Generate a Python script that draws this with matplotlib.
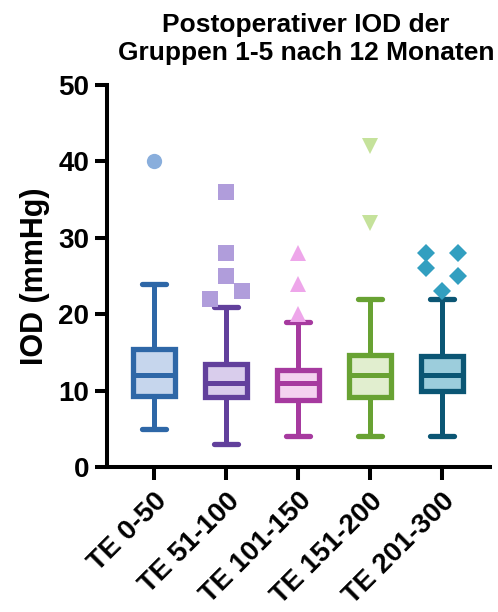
import numpy as np
import matplotlib.pyplot as plt

# values (mmHg)
groups = ["TE 0-50", "TE 51-100", "TE 101-150", "TE 151-200", "TE 201-300"]
whisker_low = [5, 3, 4, 4, 4]
q1 = [9.3, 9.2, 8.8, 9.1, 9.9]
medians = [12, 11, 11, 12, 12]
q3 = [15.4, 13.5, 12.7, 14.7, 14.5]
whisker_high = [24, 21, 19, 22, 22]
outliers = [
    [40],
    [22, 23, 25, 28, 36],
    [20, 24, 28],
    [32, 42],
    [23, 25, 26, 28, 28],
]

# layout: sideways spread of overlapping outliers (in marker widths)
spread = [
    [0],
    [-1, 1, 0, 0, 0],
    [0, 0, 0],
    [0, 0],
    [0, 1, -1, -1, 1],
]

edge_colors = ["#2e67a7", "#62409c", "#a63a9f", "#68a233", "#0b5674"]
fill_colors = ["#c6d6ed", "#d9cdec", "#f4d2f0", "#e1eecf", "#9ccddc"]
dot_colors = ["#89aedc", "#b09ddb", "#eea6ea", "#c5e29b", "#329fc0"]
markers = ["o", "s", "^", "v", "D"]
marker_sizes = [11, 11, 12, 12, 9]

plt.rcParams["font.family"] = ["Liberation Sans", "DejaVu Sans"]
plt.rcParams["font.weight"] = "bold"

fig = plt.figure(figsize=(4.98, 6.12), dpi=100)
ax = fig.add_axes([0.215, 0.237, 0.769, 0.624])

positions = np.arange(1, len(groups) + 1)
for i, pos in enumerate(positions):
    stats = [dict(med=medians[i], q1=q1[i], q3=q3[i],
                  whislo=whisker_low[i], whishi=whisker_high[i], fliers=[])]
    c = edge_colors[i]
    ax.bxp(stats, positions=[pos], widths=0.58, patch_artist=True,
           showfliers=False,
           boxprops=dict(facecolor=fill_colors[i], edgecolor=c, linewidth=3.8),
           medianprops=dict(color=c, linewidth=3.6),
           whiskerprops=dict(color=c, linewidth=3.6),
           capprops=dict(color=c, linewidth=3.8, solid_capstyle="round"),
           capwidths=0.34)
    xs = pos + 0.225 * np.array(spread[i])
    ax.plot(xs, outliers[i], linestyle="none", marker=markers[i],
            markersize=marker_sizes[i], color=dot_colors[i],
            markeredgewidth=0, clip_on=False)

ax.set_xlim(0.345, 5.67)
ax.set_ylim(0, 50)
ax.set_yticks([0, 10, 20, 30, 40, 50])
ax.set_xticks(positions)
ax.set_xticklabels(groups, rotation=45, ha="right", rotation_mode="anchor",
                   fontsize=20, fontweight="bold")
ax.tick_params(axis="y", labelsize=20, width=2.9, length=9, pad=4)
ax.tick_params(axis="x", width=2.9, length=9, pad=6)

for side in ["top", "right"]:
    ax.spines[side].set_visible(False)
for side in ["left", "bottom"]:
    ax.spines[side].set_linewidth(2.9)

ax.set_ylabel("IOD (mmHg)", fontsize=22, fontweight="bold", labelpad=6)
ax.set_title("Postoperativer IOD der\nGruppen 1-5 nach 12 Monaten",
             fontsize=19, fontweight="bold", pad=18, x=0.52)

fig.savefig("out.png", dpi=100)
